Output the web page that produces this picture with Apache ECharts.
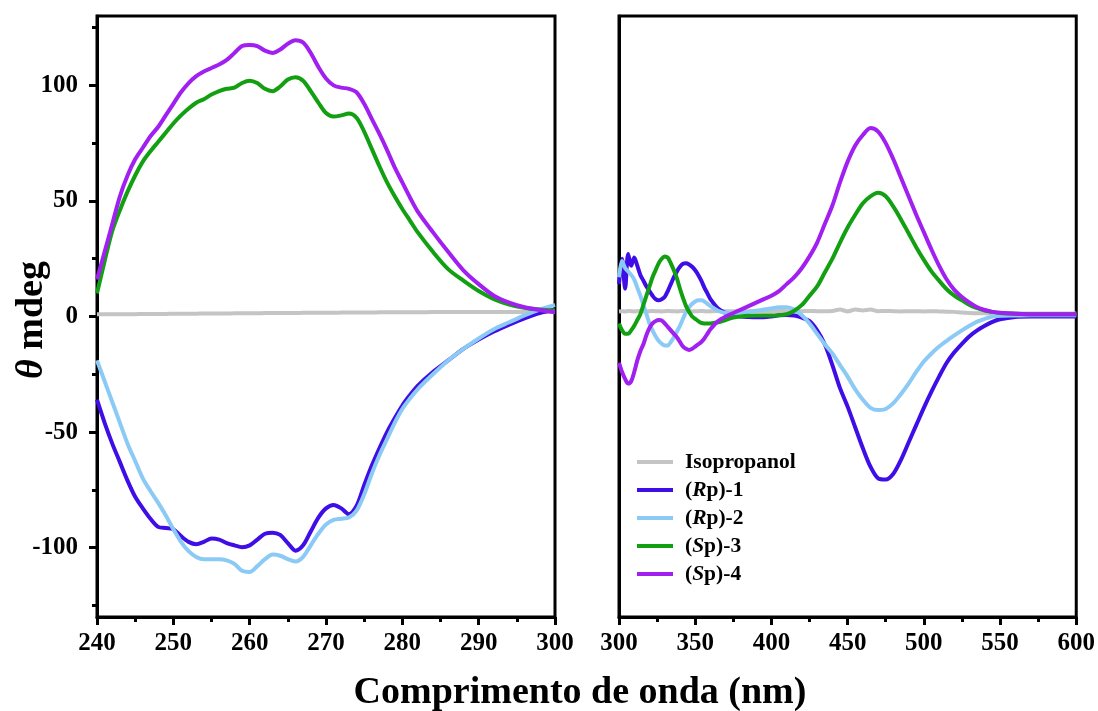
<!DOCTYPE html>
<html>
<head>
<meta charset="utf-8">
<script src="https://cdn.jsdelivr.net/npm/echarts@6/dist/echarts.min.js"></script>
<style>html,body{margin:0;padding:0;background:#fff}#c{width:1098px;height:711px}</style>
</head>
<body>
<div id="c"></div>
<script>
// ---------- DATA ----------
const seriesNames = ['Isopropanol', '(Rp)-1', '(Rp)-2', '(Sp)-3', '(Sp)-4'];
const yTickLabels = [-100, -50, 0, 50, 100];
const yMinorTicks = [-125, -75, -25, 25, 75, 125];

// Left panel (240-300 nm)
const wlLeft = [240,241,242,243,244,245,246,247,248,249,250,251,252,253,254,255,256,257,258,259,260,261,262,263,264,265,266,267,268,269,270,271,272,273,274,275,276,277,278,279,280,281,282,284,286,288,290,292,294,296,298,300];
const isoLeft = [1,1,1,1,1,1,1.1,1.1,1.1,1.1,1.2,1.2,1.2,1.2,1.3,1.3,1.3,1.3,1.4,1.4,1.4,1.4,1.5,1.5,1.5,1.5,1.5,1.6,1.6,1.6,1.6,1.6,1.7,1.7,1.7,1.7,1.7,1.8,1.8,1.8,1.8,1.8,1.8,1.9,1.9,1.9,1.9,2,2,2,2,2];
const rp1Left = [-36,-46,-55,-63,-71,-78,-83,-87.5,-91,-91.5,-92,-95,-97.5,-98.5,-97.5,-96,-96.5,-98,-99,-99.8,-99,-96.5,-94,-93.5,-94.5,-98,-101.3,-99,-93,-87,-83,-81.5,-83,-85.5,-82,-73,-64.5,-57,-50,-44,-38.5,-34,-30,-24,-19,-14,-10,-6.5,-3.5,-0.8,1.5,3];
const rp2Left = [-19,-28,-37,-46,-55,-62.5,-70,-75.5,-80.5,-86,-92,-97.5,-101.5,-104,-105,-105,-105,-105.5,-107,-110,-110.5,-108,-105,-103,-103.5,-105,-106,-104,-99,-94,-90,-88,-87.5,-87,-84,-77,-68,-60,-53,-46,-40,-35.5,-31.5,-25,-19,-14,-9.5,-5.5,-2.5,0.5,3,5];
const sp3Left = [10,24,37,46,54,61,67,71.5,75.5,79.5,83.5,87,90,92.5,94,96,97.5,98.5,99,101,102,101,98.5,97.5,99.5,102.5,103.5,102,97.5,92.5,88,86.5,87,87.8,86,80,72.5,65,58,52,46.5,41.5,36.5,28,20.5,15.5,11,7.5,5.2,3.8,3,2.5];
const sp4Left = [16,28,40,52,61,68,73,78,82,87,92,97,101,104,106,107.5,109,111,114,117,117.5,117,115,114,115.5,118,119.5,118.5,114,108,103,100,99,98.5,97,92,85.5,79,72,64.5,58,51.5,45.5,36.5,28,20,14,9,6,4,2.8,1.8];

// Right panel (300-600 nm)
const wlRight = [300,302,304,306,308,310,312,314,316,318,320,322,324,326,328,330,332,334,336,338,340,342,344,346,348,350,352,354,356,358,360,365,370,375,380,385,390,395,400,405,410,415,420,425,430,435,440,445,450,455,460,465,470,475,480,485,490,495,500,505,510,515,520,525,530,535,540,545,550,560,570,580,590,600];
const isoRight = [2.2,2.3,2.2,2.4,2.3,2.2,2.3,2.4,2.3,2.2,2.3,2.4,2.3,2.3,2.2,2.3,2.4,2.3,2.3,2.2,2.3,2.4,2.3,2.3,2.2,2.3,2.3,2.4,2.3,2.2,2.3,2.4,2.3,2.3,2.2,2.3,2.4,2.3,2.3,2.4,2.3,2.2,2.3,2.4,2.3,2.3,2.4,3,2.2,3,2.6,3,2.3,2.4,2.3,2.2,2.3,2.3,2.2,2.3,2.2,2.1,2,1.7,1.5,1.4,1.4,1.3,1.3,1.3,1.3,1.3,1.3,1.3];
const rp1Right = [14,25,12,27,22,25.5,22,18,15.5,13,11,9,7.5,7,7.5,8.5,11,14,17,19.5,21.5,22.8,23,22.5,21.5,20,18,15.5,12.5,10,7.5,3.5,1.5,0.5,0,-0.2,-0.3,-0.3,0,0.5,0.6,0.4,-0.5,-2,-6,-12,-21,-31,-39,-48,-57,-65,-70,-70.5,-68,-62,-54.5,-47,-39.5,-32.5,-26,-20,-15.5,-11.8,-8.5,-6,-4,-2.3,-1.2,-0.2,0,0,0,0];
const rp2Right = [17,24,21,19.5,18,16,12.5,9,5,1,-3,-6,-8.5,-10.5,-11.8,-12.5,-12.5,-11,-9,-6.5,-4,-1,2,4,5.5,6.5,7,7,6.5,5.5,4.5,2.5,1.5,1.3,1.5,2,2.5,3,3.5,4,4,3,0.5,-3,-7.5,-12,-16,-21,-26,-31.5,-36,-39.5,-40.5,-40,-37.5,-33.5,-29,-24,-19.5,-16,-13,-10.5,-8.2,-6,-4,-2.2,-1,0,0.3,0.4,0.5,0.5,0.5,0.5];
const sp3Right = [-3,-6,-7.5,-7.5,-6,-4,-1.5,1,5,9,13,17,20,23,25,26,25.5,23,20,16.5,12,8,4.5,2,0,-1,-2,-2.8,-3,-3,-3,-2.5,-1.5,-0.5,0,0.3,0.4,0.4,0.4,0.5,1,2.5,5,9,13,19,25,32,38.5,44,49,52,53.5,52,47.5,42,36,30,24.5,19.5,15.5,11.8,9,7,5,3.6,2.6,2,1.5,1.2,1,1,1,1];
const sp4Right = [-20,-24,-27,-29,-28,-24,-19,-15,-12,-8,-5,-3,-2,-1.5,-1.7,-3,-4.5,-6,-7.5,-9,-11,-13,-14,-14.5,-14,-13,-12,-11,-9.5,-7.5,-5.5,-2,0,1.5,3,4.5,6,7.5,9,11,14,17,21,26,32,40,48,58,67,74,78.5,81.5,80,75,68,60,52,44,36.5,29,22,16,11.5,8.4,6,4,2.8,2,1.6,1.2,1,1,1,1];

const colors = {
  'Isopropanol': '#c4c4c4',
  '(Rp)-1': '#3f0ee6',
  '(Rp)-2': '#8ccaf6',
  '(Sp)-3': '#12a012',
  '(Sp)-4': '#a11ff0'
};

// ---------- CHART ----------
const FONT = 'Liberation Serif';
const chart = echarts.init(document.getElementById('c'), null, {renderer: 'canvas'});

function pairs(xs, ys) { return xs.map((x, i) => [x, ys[i]]); }
function mk(name, xs, ys, idx) {
  return {
    name: name, type: 'line', xAxisIndex: idx, yAxisIndex: idx === 0 ? 0 : 2,
    data: pairs(xs, ys), showSymbol: false, symbol: 'none', smooth: 0.3,
    lineStyle: {color: colors[name], width: 4}, itemStyle: {color: colors[name]},
    z: name === 'Isopropanol' ? 1 : 2, animation: false
  };
}

const leftSets = [isoLeft, rp1Left, rp2Left, sp3Left, sp4Left];
const rightSets = [isoRight, rp1Right, rp2Right, sp3Right, sp4Right];
const series = [];
seriesNames.forEach((n, i) => series.push(mk(n, wlLeft, leftSets[i], 0)));
seriesNames.forEach((n, i) => series.push(mk(n, wlRight, rightSets[i], 1)));

const axisLbl = {fontFamily: FONT, fontWeight: 'bold', fontSize: 25, color: '#000'};
function xAx(grid, min, max, interval) {
  return {
    type: 'value', gridIndex: grid, min: min, max: max, interval: interval,
    axisLine: {show: true, onZero: false, lineStyle: {color: '#000', width: 3}},
    axisTick: {show: true, length: 8, lineStyle: {color: '#000', width: 3}},
    minorTick: {show: true, splitNumber: 2, length: 5, lineStyle: {color: '#000', width: 3}},
    axisLabel: Object.assign({margin: 14}, axisLbl),
    splitLine: {show: false}
  };
}

const option = {
  backgroundColor: '#fff',
  animation: false,
  grid: [
    {left: 97, top: 16, width: 458, height: 601, show: true, borderColor: '#000', borderWidth: 3, backgroundColor: 'transparent'},
    {left: 619, top: 16, width: 459, height: 601, show: true, borderColor: '#000', borderWidth: 3, backgroundColor: 'transparent'}
  ],
  xAxis: [xAx(0, 240, 300, 10), xAx(1, 300, 600, 50)],
  yAxis: [
    {
      type: 'value', gridIndex: 0, min: -130, max: 130,
      axisLine: {show: true, onZero: false, lineStyle: {color: '#000', width: 3}},
      axisTick: {show: true, length: 8, customValues: yTickLabels, lineStyle: {color: '#000', width: 3}},
      axisLabel: Object.assign({margin: 19, customValues: yTickLabels}, axisLbl),
      splitLine: {show: false}
    },
    {
      type: 'value', gridIndex: 0, min: -130, max: 130, position: 'left',
      axisLine: {show: false},
      axisTick: {show: true, length: 5, customValues: yMinorTicks, lineStyle: {color: '#000', width: 3}},
      axisLabel: {show: false},
      splitLine: {show: false}
    },
    {
      type: 'value', gridIndex: 1, min: -130, max: 130,
      axisLine: {show: true, onZero: false, lineStyle: {color: '#000', width: 3}},
      axisTick: {show: false}, axisLabel: {show: false}, splitLine: {show: false}
    }
  ],
  legend: {
    data: seriesNames, orient: 'vertical', left: 637, top: 451, padding: 0,
    itemWidth: 36, itemHeight: 4, itemGap: 6, icon: 'rect',
    formatter: function (name) {
      const m = name.match(/^\((R|S)p\)(.*)$/);
      if (m) return '{b|(}{i|' + m[1] + '}{b|p)' + m[2] + '}';
      return '{b|' + name + '}';
    },
    textStyle: {
      padding: [0, 0, 0, 7],
      rich: {
        b: {fontFamily: FONT, fontWeight: 'bold', fontSize: 21.5, color: '#000', lineHeight: 22.5},
        i: {fontFamily: FONT, fontWeight: 'bold', fontStyle: 'italic', fontSize: 21.5, color: '#000', lineHeight: 22.5}
      }
    }
  },
  graphic: [
    {
      type: 'text', x: 580, y: 693,
      style: {text: 'Comprimento de onda (nm)', font: 'bold 38px "Liberation Serif"', fill: '#000', textAlign: 'center', textVerticalAlign: 'middle'}
    },
    {
      type: 'text', x: 32, y: 320, rotation: Math.PI / 2,
      style: {
        text: '{i|θ}{b| mdeg}', textAlign: 'center', textVerticalAlign: 'middle',
        rich: {
          i: {fontFamily: FONT, fontWeight: 'bold', fontStyle: 'italic', fontSize: 38, fill: '#000'},
          b: {fontFamily: FONT, fontWeight: 'bold', fontSize: 38, fill: '#000'}
        }
      }
    }
  ],
  series: series
};
chart.setOption(option);
</script>
</body>
</html>
